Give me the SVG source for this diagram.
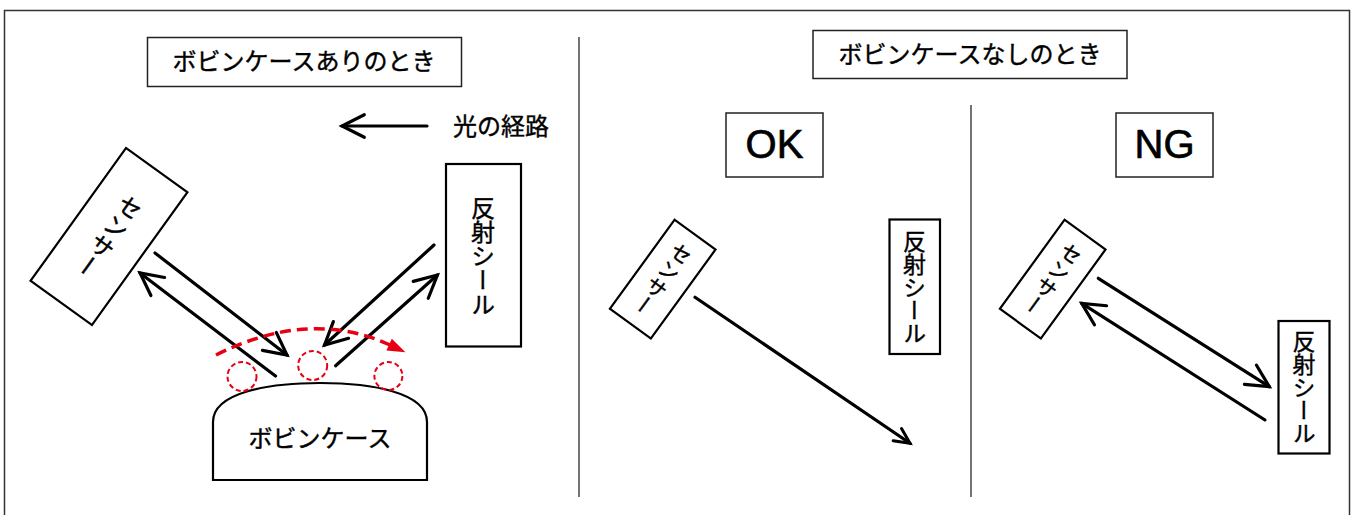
<svg xmlns="http://www.w3.org/2000/svg" width="1353" height="515" viewBox="0 0 1353 515">
<style>
.frame{fill:none;stroke:#333;stroke-width:1.5}
.div{stroke:#444;stroke-width:1.5}
.tbox{fill:#fff;stroke:#222;stroke-width:1.5}
.box{fill:#fff;stroke:#000;stroke-width:2.2}
.t{font-family:"Noto Sans CJK JP","Liberation Sans",sans-serif;fill:#000;stroke:#000;stroke-width:0.4}
.vt{font-family:"Noto Sans CJK JP",sans-serif;fill:#000;stroke:#000;stroke-width:0.4;writing-mode:vertical-rl}
.lat{font-family:"Liberation Sans",sans-serif;fill:#000;stroke:#000;stroke-width:0.7}
.arr{fill:none;stroke:#000;stroke-width:3.2;stroke-linecap:round}
.red{fill:none;stroke:#e60012;stroke-width:3.5;stroke-dasharray:11 6}
.rc{fill:none;stroke:#e60012;stroke-width:2;stroke-dasharray:5 3}
</style>
<defs>
<marker id="ah" markerUnits="userSpaceOnUse" orient="auto" overflow="visible" markerWidth="1" markerHeight="1" refX="0" refY="0">
<path d="M-22.3,-11.3 L0,0 L-22.3,11.3" fill="none" stroke="#000" stroke-width="3.2" stroke-linecap="round"/>
</marker>
<marker id="ahs" markerUnits="userSpaceOnUse" orient="auto" overflow="visible" markerWidth="1" markerHeight="1" refX="0" refY="0">
<path d="M-15.3,-7.4 L0,0 L-15.3,7.4" fill="none" stroke="#000" stroke-width="3" stroke-linecap="round"/>
</marker>
<marker id="ahr" markerUnits="userSpaceOnUse" orient="auto" overflow="visible" markerWidth="1" markerHeight="1" refX="0" refY="0">
<path d="M-1,-6.5 L17,0 L-1,6.5 Z" fill="#e60012"/>
</marker>
</defs>
<rect class="frame" x="4.5" y="10.5" width="1345" height="520"/>
<line class="div" x1="579" y1="37" x2="579" y2="497"/>
<line class="div" x1="971" y1="105" x2="971" y2="497"/>

<g id="title-with">
<rect class="tbox" x="147.5" y="37.5" width="314" height="49"/>
<text class="t" x="304" y="70" font-size="24" text-anchor="middle">ボビンケースありのとき</text>
</g>
<g id="title-without">
<rect class="tbox" x="813" y="30.5" width="314" height="48"/>
<text class="t" x="970" y="63" font-size="24" text-anchor="middle">ボビンケースなしのとき</text>
</g>
<g id="legend">
<text class="t" x="453" y="134.5" font-size="24">光の経路</text>
</g>

<g id="sensor-left" transform="translate(109,236.5) rotate(35.7)">
<rect class="box" x="-37.8" y="-81.8" width="75.6" height="163.6"/>
<text class="vt" x="0" y="0" font-size="24" text-anchor="middle">センサー</text>
</g>
<g id="seal-left">
<rect class="box" x="446" y="164" width="75" height="182.5" stroke-width="2.6"/>
<text class="vt" x="483" y="255.5" font-size="24" text-anchor="middle">反射シール</text>
</g>
<g id="bobbin-case">
<path class="box" d="M213,480 V422 C213,392 270,383 320,383 C370,383 427,392 427,422 V480 Z" stroke-width="2.6"/>
<text class="t" x="320" y="446.5" font-size="24" text-anchor="middle">ボビンケース</text>
</g>
<g id="detect-points">
<circle class="rc" cx="242" cy="376.5" r="14.5"/>
<circle class="rc" cx="312.7" cy="365.5" r="14.5"/>
<circle class="rc" cx="388.4" cy="376" r="14"/>
</g>

<g id="ok-label">
<rect class="tbox" x="726" y="113" width="97" height="64"/>
<text class="lat" x="774.5" y="158" font-size="40" text-anchor="middle">OK</text>
</g>
<g id="sensor-ok" transform="translate(662.7,279.2) rotate(36)">
<rect class="box" x="-25.3" y="-55" width="50.6" height="110"/>
<text class="vt" x="0" y="0" font-size="21" text-anchor="middle">センサー</text>
</g>
<g id="seal-ok">
<rect class="box" x="889.5" y="219.5" width="50.5" height="134.5" stroke-width="2.4"/>
<text class="vt" x="914.5" y="287" font-size="23" text-anchor="middle">反射シール</text>
</g>

<g id="ng-label">
<rect class="tbox" x="1116" y="113" width="97" height="64"/>
<text class="lat" x="1164.5" y="158" font-size="40" text-anchor="middle">NG</text>
</g>
<g id="sensor-ng" transform="translate(1052.7,279.2) rotate(36)">
<rect class="box" x="-25.3" y="-55" width="50.6" height="110"/>
<text class="vt" x="0" y="0" font-size="21" text-anchor="middle">センサー</text>
</g>
<g id="seal-ng">
<rect class="box" x="1278.5" y="321" width="51" height="132.5" stroke-width="2.4"/>
<text class="vt" x="1304" y="387" font-size="23" text-anchor="middle">反射シール</text>
</g>

<g id="connectors">
<path class="arr" d="M427,126 L342,126" marker-end="url(#ah)"/>
<path class="arr" d="M155,253 L287,355" marker-end="url(#ah)"/>
<path class="arr" d="M275.5,376 L140,273" marker-end="url(#ah)"/>
<path class="arr" d="M434,245 L324.5,345" marker-end="url(#ah)"/>
<path class="arr" d="M335.6,365.7 L437.4,275" marker-end="url(#ah)"/>
<path class="red" d="M216,355 Q310,308 390,345" marker-end="url(#ahr)"/>
<path class="arr" d="M695,297.3 L910,443.3" marker-end="url(#ahs)"/>
<path class="arr" d="M1098.3,278.3 L1269.3,386.7" marker-end="url(#ah)"/>
<path class="arr" d="M1265,420 L1081.7,303.3" marker-end="url(#ah)"/>
</g>
</svg>
